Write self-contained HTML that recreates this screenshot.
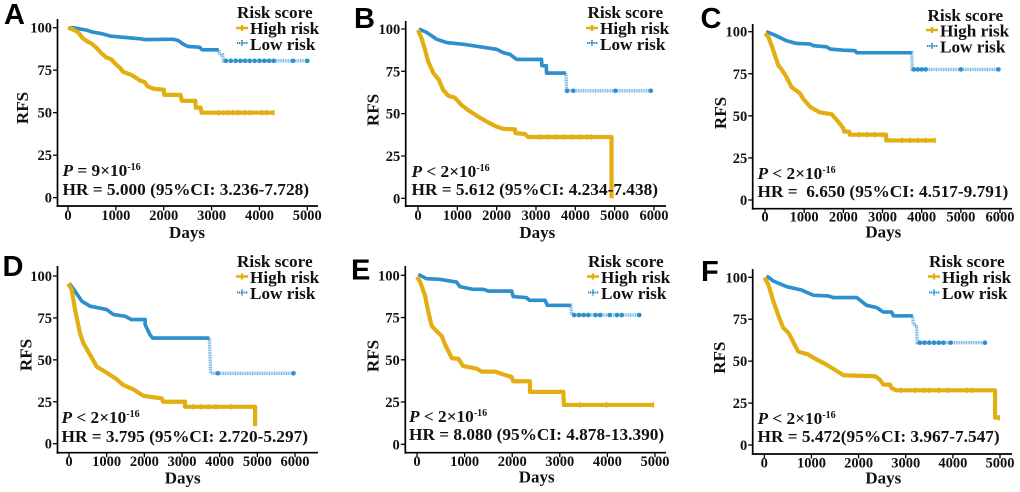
<!DOCTYPE html>
<html lang="en">
<head>
<meta charset="utf-8">
<title>Recurrence-free survival by risk score</title>
<style>
html,body{margin:0;padding:0;background:#fff;}
svg{display:block;filter:blur(0.35px);}
text{font-family:"Liberation Serif",serif;font-weight:bold;fill:#111;}
.tick{font-size:14.5px;}
.title{font-size:17px;}
.legend{font-size:17.2px;}
.note{font-size:17.3px;}
.sup{font-size:10px;}
.letter{font-family:"Liberation Sans",sans-serif;font-size:29px;fill:#000;}
</style>
</head>
<body>
<svg id="figure" width="1020" height="492" viewBox="0 0 1020 492" xmlns="http://www.w3.org/2000/svg">
<rect width="1020" height="492" fill="#fff"/>

<g id="panel-a">
  <g class="plot"></g>
  <text class="letter" x="4" y="24">A</text>
  <text class="legend" x="237" y="18">Risk score</text>
  <g><path d="M236 28H248M242 25V31" stroke="#E2AE12" stroke-width="2.4" fill="none"/><text class="legend" x="250" y="34">High risk</text></g>
  <g><path d="M237 43H248M242 40V46" stroke="#2E8FCE" stroke-width="2" stroke-dasharray="1.2 .6" fill="none"/><text class="legend" x="250" y="50">Low risk</text></g>
  <text class="note" x="62.5" y="176"><tspan font-style="italic">P</tspan> = 9×10<tspan class="sup" dy="-6">-16</tspan></text>
  <text class="note" x="62.5" y="195">HR = 5.000 (95%CI: 3.236-7.728)</text>
</g>

<g id="panel-b">
  <g class="plot"></g>
  <text class="letter" x="354" y="28">B</text>
  <text class="legend" x="587.5" y="18">Risk score</text>
  <g><path d="M586 28H598M592 25V31" stroke="#E2AE12" stroke-width="2.4" fill="none"/><text class="legend" x="600" y="34">High risk</text></g>
  <g><path d="M587 43H598M592 40V46" stroke="#2E8FCE" stroke-width="2" stroke-dasharray="1.2 .6" fill="none"/><text class="legend" x="600" y="50">Low risk</text></g>
  <text class="note" x="411.5" y="177"><tspan font-style="italic">P</tspan> &lt; 2×10<tspan class="sup" dy="-6">-16</tspan></text>
  <text class="note" x="411.5" y="195">HR = 5.612 (95%CI: 4.234-7.438)</text>
</g>

<g id="panel-c">
  <g class="plot"></g>
  <text class="letter" x="700.5" y="28">C</text>
  <text class="legend" x="927.5" y="21">Risk score</text>
  <g><path d="M926 30H938M932 27V33" stroke="#E2AE12" stroke-width="2.4" fill="none"/><text class="legend" x="940" y="36.5">High risk</text></g>
  <g><path d="M927 46H938M932 43V49" stroke="#2E8FCE" stroke-width="2" stroke-dasharray="1.2 .6" fill="none"/><text class="legend" x="940" y="52.5">Low risk</text></g>
  <text class="note" x="757.5" y="179"><tspan font-style="italic">P</tspan> &lt; 2×10<tspan class="sup" dy="-6">-16</tspan></text>
  <text class="note" x="757.5" y="197" xml:space="preserve">HR =  6.650 (95%CI: 4.517-9.791)</text>
</g>

<g id="panel-d">
  <g class="plot"></g>
  <text class="letter" x="2.5" y="276">D</text>
  <text class="legend" x="237" y="267">Risk score</text>
  <g><path d="M236 276.500H248M242 273.500V279.500" stroke="#E2AE12" stroke-width="2.4" fill="none"/><text class="legend" x="250" y="283">High risk</text></g>
  <g><path d="M237 292.500H248M242 289.500V295.500" stroke="#2E8FCE" stroke-width="2" stroke-dasharray="1.2 .6" fill="none"/><text class="legend" x="250" y="299">Low risk</text></g>
  <text class="note" x="61.500" y="423"><tspan font-style="italic">P</tspan> &lt; 2×10<tspan class="sup" dy="-6">-16</tspan></text>
  <text class="note" x="61.500" y="442">HR = 3.795 (95%CI: 2.720-5.297)</text>
</g>

<g id="panel-e">
  <g class="plot"></g>
  <text class="letter" x="351" y="279.500">E</text>
  <text class="legend" x="588" y="267">Risk score</text>
  <g><path d="M587 276.500H599M593 273.500V279.500" stroke="#E2AE12" stroke-width="2.4" fill="none"/><text class="legend" x="601" y="283">High risk</text></g>
  <g><path d="M588 292.500H599M593 289.500V295.500" stroke="#2E8FCE" stroke-width="2" stroke-dasharray="1.2 .6" fill="none"/><text class="legend" x="601" y="299">Low risk</text></g>
  <text class="note" x="409" y="422"><tspan font-style="italic">P</tspan> &lt; 2×10<tspan class="sup" dy="-6">-16</tspan></text>
  <text class="note" x="409" y="440">HR = 8.080 (95%CI: 4.878-13.390)</text>
</g>

<g id="panel-f">
  <g class="plot"></g>
  <text class="letter" x="701" y="281">F</text>
  <text class="legend" x="929" y="267">Risk score</text>
  <g><path d="M928 276.500H940M934 273.500V279.500" stroke="#E2AE12" stroke-width="2.4" fill="none"/><text class="legend" x="942" y="283">High risk</text></g>
  <g><path d="M929 292.500H940M934 289.500V295.500" stroke="#2E8FCE" stroke-width="2" stroke-dasharray="1.2 .6" fill="none"/><text class="legend" x="942" y="299">Low risk</text></g>
  <text class="note" x="757.500" y="424"><tspan font-style="italic">P</tspan> &lt; 2×10<tspan class="sup" dy="-6">-16</tspan></text>
  <text class="note" x="757.500" y="442">HR = 5.472(95%CI: 3.967-7.547)</text>
</g>
</svg>

<script>
const rfsTicks = [0, 25, 50, 75, 100];
const daysTicks5000 = [0, 1000, 2000, 3000, 4000, 5000];
const daysTicks6000 = [0, 1000, 2000, 3000, 4000, 5000, 6000];

const aHighDays = [0,100,200,250,300,400,500,600,700,800,900,1000,1100,1150,1300,1400,1500,1600,1650,1700,1800,2000,2010,2350,2380,2660,2670,2770,2790,4300];
const aHighRfs = [100,99,97.5,96,94,92,90.500,88,85,82.500,81.500,78.500,76,74,72.500,71,69,68,66,65,64,63.500,60.500,60.500,57,57,53,53,50,50];
const aLowDays = [50,100,200,400,500,700,900,1100,1300,1500,1600,2200,2300,2400,2500,2750,2800,3150,3170,3230,3250,5000];
const aLowRfs = [100,100,99.500,98.500,97.500,96.500,95,94.500,94,93.500,93,93.200,92.500,90.500,89,88.500,87,87,84,84,80.500,80.500];
const aHighCensorDays = [3150,3250,3350,3450,3550,3700,3800,4050,4150,4300];
const aLowCensorDays = [3300,3400,3500,3600,3700,3800,3900,4000,4100,4200,4300,4700,5000];

const bHighDays = [0,90,180,260,390,530,640,770,940,1110,1280,1490,1745,2000,2170,2465,2480,2720,2800,4920,4921];
const bHighRfs = [99.400,94.500,87.600,80.700,74,70,64,60.600,59.400,55,52,48.800,45.300,42.300,41,40.700,38.500,38,36.200,36.200,0];
const bLowDays = [20,220,470,730,1150,1575,2000,2170,2340,2510,3140,3150,3260,3270,3760,3780,5920];
const bLowRfs = [100,98,94,92,91,89.500,88,86,85,82,82,78.300,78.300,74,74,63.500,63.500];
const bHighCensorDays = [3100,3300,3500,3700,3900,4100,4300,4400];
const bLowCensorDays = [3790,3950,5020,5920];

const cHighDays = [0,85,210,340,425,550,680,890,980,1150,1400,1700,1870,2000,2020,2150,2170,3090,3095,4340];
const cHighRfs = [99,97,89,80,77.600,73,67,63.400,60,55.400,52,51,46.500,42.600,40.600,40.600,38.800,38.800,35.400,35.400];
const cLowDays = [30,210,550,810,1150,1230,1575,1660,2000,2300,2340,3745,3760,5960];
const cLowRfs = [100,98.400,94.600,93,92.700,91.700,91,89.700,89,88.700,87.500,87.500,77.600,77.600];
const cHighCensorDays = [2400,2600,2800,3000,3500,3700,3900,4100,4340];
const cLowCensorDays = [3800,3900,4000,4100,5000,5960];

const dHighDays = [-20,70,160,290,380,560,735,1000,1265,1440,1710,1970,2150,2460,2500,3080,3081,4940,4941];
const dHighRfs = [95.400,92,80,66,60,53,46,42.300,38.400,35,32.400,28.600,28,27,25,25,22,22,10.500];
const dLowDays = [10,160,340,560,1000,1180,1490,1660,2020,2021,2150,2220,3725,3760,5960];
const dLowRfs = [95.600,91,85,82,80,77,76,74,74,71,65,63,63,42,42];
const dHighCensorDays = [3300,3500,3700,3900,4300];
const dLowCensorDays = [3950,5960];

const eHighDays = [0,60,170,240,310,410,520,590,730,870,970,1250,1360,1640,1810,1990,2020,2370,2375,3075,3085,4965];
const eHighRfs = [99,96.600,87.800,78,70,67,64,59,51,50.600,46.300,44.800,43,43,41.400,39.800,37.300,37.300,31,31,23.300,23.300];
const eLowDays = [30,200,480,830,900,1180,1390,1500,1990,2020,2300,2360,2690,2740,3230,3250,4670];
const eLowRfs = [100.500,98,97.600,96,93.300,91.700,91.700,90.700,90.700,87.400,86.800,85.200,85.200,82.200,82.200,76.500,76.500];
const eHighCensorDays = [3420,3980,4965];
const eLowCensorDays = [3300,3400,3500,3600,3750,3850,4050,4200,4300,4670];

const fHighDays = [0,85,190,300,400,520,720,930,1075,1250,1430,1680,2350,2450,2525,2665,2700,2790,4895,4896,4985];
const fHighRfs = [99.800,95.800,85.900,77,70,66.600,55.700,54,51.500,49,46,41.600,41,39,36,36,34,32.600,32.600,16.300,16.300];
const fLowDays = [50,190,475,790,1040,1360,1465,1960,2170,2380,2525,2700,2740,3150,3160,3230,3245,4680];
const fLowRfs = [100.800,97.800,94.400,92.400,89.300,88.900,87.900,87.900,83.300,82,79.300,79.300,77,77,71.600,71.600,61,61];
const fHighCensorDays = [2900,3200,3400,3500,3700,3900,4300,4400,4985];
const fLowCensorDays = [3300,3400,3500,3600,3700,3800,3950,4680];

const HIGH_COLOR = '#E2AE12';
const LOW_COLOR = '#2E8FCE';
const LOW_LIGHT = '#6DB5E4';
const NS = 'http://www.w3.org/2000/svg';

const panels = [
  {id:'a', axisX:57.5, axisTop:19, axisBottom:206, axisRight:318, x0:68, pxPer1000:47.86, y100:27.7, y0:197.7, ticks:daysTicks5000, tickBase:220, titleBase:238, titleX:187, rfsX:28, rfsY:108,
   highDays:aHighDays, highRfs:aHighRfs, lowDays:aLowDays, lowRfs:aLowRfs, highCensor:aHighCensorDays, lowCensor:aLowCensorDays, denseUntil:3150},
  {id:'b', axisX:405.7, axisTop:21, axisBottom:206, axisRight:666, x0:418, pxPer1000:39.33, y100:29, y0:198.3, ticks:daysTicks6000, tickBase:220, titleBase:238, titleX:537.3, rfsX:378.3, rfsY:110,
   highDays:bHighDays, highRfs:bHighRfs, lowDays:bLowDays, lowRfs:bLowRfs, highCensor:bHighCensorDays, lowCensor:bLowCensorDays, denseUntil:3760},
  {id:'c', axisX:752.7, axisTop:24, axisBottom:208.7, axisRight:1012, x0:765, pxPer1000:39.17, y100:31.7, y0:200, ticks:daysTicks6000, tickBase:221.7, titleBase:237.7, titleX:883.3, rfsX:726, rfsY:113,
   highDays:cHighDays, highRfs:cHighRfs, lowDays:cLowDays, lowRfs:cLowRfs, highCensor:cHighCensorDays, lowCensor:cLowCensorDays, denseUntil:3745},
  {id:'d', axisX:57.5, axisTop:266, axisBottom:452.7, axisRight:318, x0:69, pxPer1000:37.67, y100:276, y0:443.7, ticks:daysTicks6000, tickBase:466, titleBase:483.3, titleX:182.7, rfsX:31.7, rfsY:355,
   highDays:dHighDays, highRfs:dHighRfs, lowDays:dLowDays, lowRfs:dLowRfs, highCensor:dHighCensorDays, lowCensor:dLowCensorDays, denseUntil:3725},
  {id:'e', axisX:405.3, axisTop:266, axisBottom:452.7, axisRight:666, x0:417, pxPer1000:47.6, y100:275.3, y0:444.3, ticks:daysTicks5000, tickBase:466, titleBase:482.7, titleX:536.7, rfsX:378.3, rfsY:356,
   highDays:eHighDays, highRfs:eHighRfs, lowDays:eLowDays, lowRfs:eLowRfs, highCensor:eHighCensorDays, lowCensor:eLowCensorDays, denseUntil:3230},
  {id:'f', axisX:752.7, axisTop:269, axisBottom:454, axisRight:1012, x0:764.3, pxPer1000:47.14, y100:277.3, y0:445, ticks:daysTicks5000, tickBase:467.7, titleBase:483.3, titleX:883.3, rfsX:725, rfsY:357.7,
   highDays:fHighDays, highRfs:fHighRfs, lowDays:fLowDays, lowRfs:fLowRfs, highCensor:fHighCensorDays, lowCensor:fLowCensorDays, denseUntil:3150}
];

function make(tag, attrs, parent, text) {
  const el = document.createElementNS(NS, tag);
  for (const k in attrs) el.setAttribute(k, attrs[k]);
  if (text !== undefined) el.textContent = text;
  parent.appendChild(el);
  return el;
}

function curveValue(days, rfs, d) {
  if (d <= days[0]) return rfs[0];
  for (let i = 1; i < days.length; i++) {
    if (d <= days[i]) {
      const t = (d - days[i - 1]) / (days[i] - days[i - 1] || 1);
      return rfs[i - 1] + t * (rfs[i] - rfs[i - 1]);
    }
  }
  return rfs[rfs.length - 1];
}

function drawPanel(p) {
  const root = document.querySelector('#panel-' + p.id + ' .plot');
  const xScale = d => p.x0 + d * p.pxPer1000 / 1000;
  const yScale = v => p.y0 + (p.y100 - p.y0) * v / 100;
  const linePath = (days, rfs) => days.map((d, i) => (i ? 'L' : 'M') + xScale(d).toFixed(2) + ' ' + yScale(rfs[i]).toFixed(2)).join('');

  const yAxis = make('path', {d:'M' + p.axisX + ' ' + p.axisTop + 'V' + (p.axisBottom + 1), stroke:'#000', 'stroke-width':1.7, fill:'none'}, root);
  
  
  const xAxis = make('path', {d:'M' + (p.axisX - 0.8) + ' ' + p.axisBottom + 'H' + p.axisRight, stroke:'#000', 'stroke-width':1.7, fill:'none'}, root);
  
  

  rfsTicks.forEach(v => {
    const y = yScale(v);
    const mark = make('path', {d:'M' + (p.axisX - 4.5) + ' ' + y + 'H' + p.axisX, stroke:'#000', 'stroke-width':1.3}, root);
    
    
    const label = make('text', {class:'tick', x:p.axisX - 5.5, y:y + 5, 'text-anchor':'end'}, root, String(v));
    
    
  });
  p.ticks.forEach(d => {
    const x = xScale(d);
    const mark = make('path', {d:'M' + x + ' ' + p.axisBottom + 'v4.5', stroke:'#000', 'stroke-width':1.3}, root);
    
    
    const label = make('text', {class:'tick', x:x, y:p.tickBase, 'text-anchor':'middle'}, root, String(d));
    
    
  });

  const xTitle = make('text', {class:'title', x:p.titleX, y:p.titleBase, 'text-anchor':'middle'}, root, 'Days');
  
  
  const yTitle = make('text', {class:'title', x:p.rfsX, y:p.rfsY, 'text-anchor':'middle', transform:'rotate(-90 ' + p.rfsX + ' ' + p.rfsY + ')'}, root, 'RFS');
  
  

  const lowDash = make('path', {d:linePath(p.lowDays, p.lowRfs), fill:'none', stroke:LOW_LIGHT, 'stroke-width':3.4, 'stroke-dasharray':'1 .7'}, root);
  
  

  const denseDays = p.lowDays.filter(d => d <= p.denseUntil);
  const denseRfs = p.lowRfs.slice(0, denseDays.length);
  const lowSolid = make('path', {d:linePath(denseDays, denseRfs), fill:'none', stroke:LOW_COLOR, 'stroke-width':3.6, 'stroke-linejoin':'round'}, root);
  
  

  p.lowCensor.forEach(d => {
    const cx = xScale(d);
    const cy = yScale(curveValue(p.lowDays, p.lowRfs, d));
    const dot = make('circle', {cx:cx, cy:cy, r:2.3, fill:LOW_COLOR}, root);
    
    
  });

  const high = make('path', {d:linePath(p.highDays, p.highRfs), fill:'none', stroke:HIGH_COLOR, 'stroke-width':4.2, 'stroke-linejoin':'round'}, root);
  
  

  p.highCensor.forEach(d => {
    const cx = xScale(d);
    const cy = yScale(curveValue(p.highDays, p.highRfs, d));
    const mark = make('path', {d:'M' + cx + ' ' + (cy - 2.7) + 'v5.4', stroke:HIGH_COLOR, 'stroke-width':1.6}, root);
    
    
  });
}

panels.forEach(drawPanel);
</script>
</body>
</html>
